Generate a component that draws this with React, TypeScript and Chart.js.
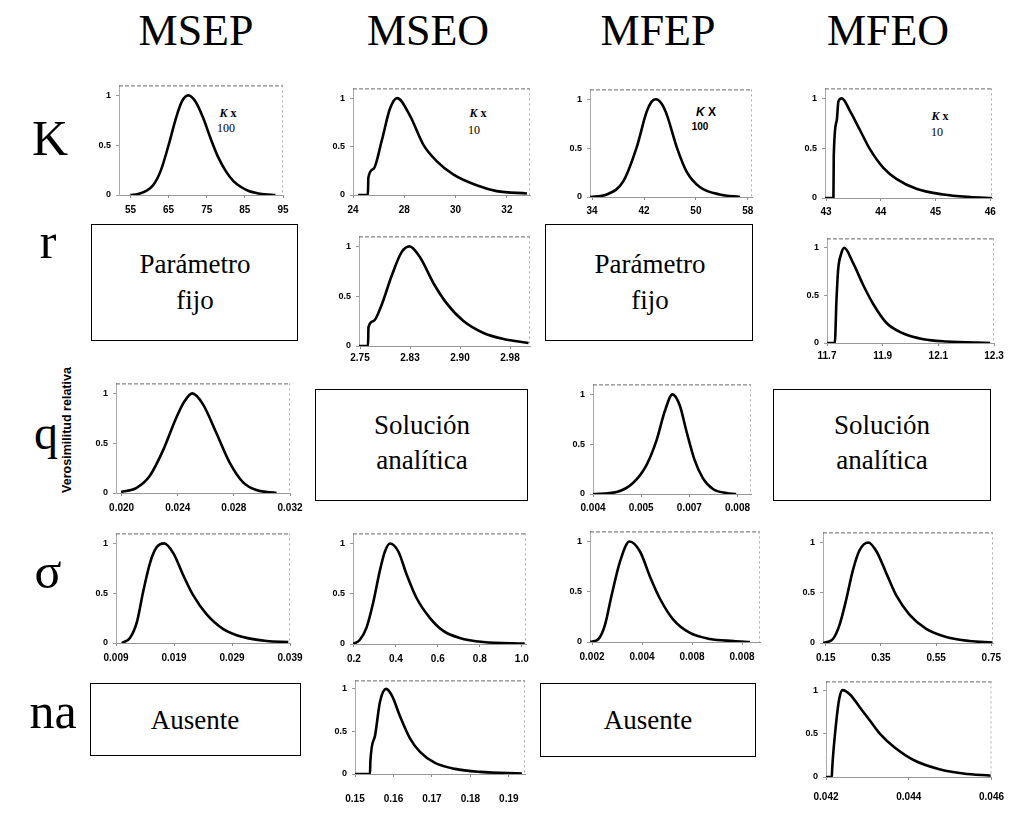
import React, { useEffect, useRef } from "react";
import { Chart, registerables } from "chart.js";

Chart.register(...registerables);

// ---------- text ----------
const columnTitles = ["MSEP", "MSEO", "MFEP", "MFEO"];
const rowTitles = ["K", "r", "q", "σ", "na"];
const yAxisTitle = "Verosimilitud relativa";
const yTickLabels = ["0", "0.5", "1"];

// ---------- tick labels (x axes) ----------
const K_MSEP_ticks = ["55", "65", "75", "85", "95"];
const K_MSEO_ticks = ["24", "28", "30", "32"];
const K_MFEP_ticks = ["34", "42", "50", "58"];
const K_MFEO_ticks = ["43", "44", "45", "46"];
const r_MSEO_ticks = ["2.75", "2.83", "2.90", "2.98"];
const r_MFEO_ticks = ["11.7", "11.9", "12.1", "12.3"];
const q_MSEP_ticks = ["0.020", "0.024", "0.028", "0.032"];
const q_MFEP_ticks = ["0.004", "0.005", "0.007", "0.008"];
const s_MSEP_ticks = ["0.009", "0.019", "0.029", "0.039"];
const s_MSEO_ticks = ["0.2", "0.4", "0.6", "0.8", "1.0"];
const s_MFEP_ticks = ["0.002", "0.004", "0.008", "0.008"];
const s_MFEO_ticks = ["0.15", "0.35", "0.55", "0.75"];
const na_MSEO_ticks = ["0.15", "0.16", "0.17", "0.18", "0.19"];
const na_MFEO_ticks = ["0.042", "0.044", "0.046"];

// ---------- curves (x in tick-index units, y = relative likelihood) ----------
const K_MSEP_x = [0, 0.2, 0.4, 0.6, 0.8, 1.0, 1.2, 1.35, 1.52, 1.7, 1.9, 2.1, 2.3, 2.5, 2.7, 2.9, 3.1, 3.3, 3.5, 3.8];
const K_MSEP_y = [0, 0.01, 0.04, 0.1, 0.25, 0.5, 0.78, 0.94, 1.0, 0.94, 0.78, 0.57, 0.38, 0.24, 0.14, 0.08, 0.04, 0.02, 0.008, 0];

const K_MSEO_x = [0.1, 0.29, 0.3, 0.4, 0.56, 0.72, 0.86, 1.11, 1.37, 1.63, 1.96, 2.41, 2.8, 3.39];
const K_MSEO_y = [0, 0, 0.18, 0.27, 0.56, 0.89, 1.0, 0.82, 0.52, 0.35, 0.21, 0.1, 0.04, 0.016];

const K_MFEP_x = [-0.04, 0.28, 0.6, 0.86, 1.05, 1.14, 1.23, 1.33, 1.44, 1.63, 1.82, 2.08, 2.46, 2.85];
const K_MFEP_y = [0, 0.026, 0.16, 0.51, 0.87, 0.97, 1.0, 0.96, 0.84, 0.51, 0.26, 0.1, 0.026, 0];

const K_MFEO_x = [-0.02, 0.134, 0.14, 0.195, 0.225, 0.287, 0.44, 0.62, 0.8, 1.05, 1.29, 1.66, 2.14, 2.63, 3.03];
const K_MFEO_y = [0, 0, 0.42, 0.78, 0.97, 1.0, 0.87, 0.68, 0.49, 0.3, 0.19, 0.09, 0.035, 0.01, 0];

const r_MSEO_x = [-0.02, 0.16, 0.17, 0.27, 0.43, 0.63, 0.83, 0.99, 1.2, 1.47, 1.73, 2.07, 2.47, 2.87, 3.37];
const r_MSEO_y = [0, 0, 0.19, 0.25, 0.41, 0.7, 0.94, 1.0, 0.89, 0.63, 0.43, 0.25, 0.13, 0.07, 0.03];

const r_MFEO_x = [0, 0.14, 0.17, 0.2, 0.25, 0.31, 0.47, 0.65, 0.83, 1.07, 1.37, 1.73, 2.15, 2.93];
const r_MFEO_y = [0, 0, 0.45, 0.77, 0.93, 1.0, 0.84, 0.61, 0.41, 0.21, 0.1, 0.04, 0.016, 0];

const q_MSEP_x = [-0.01, 0.26, 0.5, 0.74, 0.97, 1.12, 1.26, 1.45, 1.69, 1.93, 2.16, 2.4, 2.76];
const q_MSEP_y = [0.01, 0.05, 0.17, 0.43, 0.75, 0.92, 1.0, 0.89, 0.6, 0.3, 0.11, 0.03, 0];

const q_MFEP_x = [0, 0.49, 0.83, 1.11, 1.32, 1.49, 1.65, 1.8, 1.94, 2.11, 2.28, 2.49, 2.77, 2.97];
const q_MFEP_y = [0, 0.02, 0.11, 0.29, 0.54, 0.83, 1.0, 0.89, 0.63, 0.34, 0.16, 0.05, 0.01, 0];

const s_MSEP_x = [0.1, 0.24, 0.36, 0.47, 0.59, 0.7, 0.83, 0.99, 1.16, 1.33, 1.56, 1.85, 2.19, 2.6, 2.97];
const s_MSEP_y = [0, 0.05, 0.21, 0.52, 0.81, 0.96, 1.0, 0.9, 0.68, 0.48, 0.29, 0.14, 0.06, 0.02, 0.01];

const s_MSEO_x = [-0.02, 0.14, 0.3, 0.46, 0.62, 0.74, 0.86, 1.06, 1.25, 1.49, 1.81, 2.13, 2.52, 3.08, 4.07];
const s_MSEO_y = [0, 0.04, 0.16, 0.41, 0.73, 0.92, 1.0, 0.92, 0.7, 0.46, 0.26, 0.13, 0.06, 0.02, 0.005];

const s_MFEP_x = [-0.04, 0.13, 0.26, 0.39, 0.56, 0.75, 0.96, 1.16, 1.36, 1.63, 1.96, 2.36, 2.83, 3.16];
const s_MFEP_y = [0, 0.03, 0.17, 0.46, 0.8, 1.0, 0.9, 0.65, 0.43, 0.22, 0.09, 0.03, 0.01, 0];

const s_MFEO_x = [-0.05, 0.13, 0.25, 0.37, 0.49, 0.61, 0.77, 0.92, 1.1, 1.28, 1.52, 1.82, 2.18, 2.6, 3.02];
const s_MFEO_y = [0, 0.04, 0.18, 0.43, 0.72, 0.92, 1.0, 0.91, 0.69, 0.47, 0.28, 0.14, 0.06, 0.02, 0.005];

const na_MSEO_x = [0, 0.39, 0.4, 0.52, 0.65, 0.81, 0.96, 1.17, 1.43, 1.69, 2.08, 2.6, 3.25, 4.34];
const na_MSEO_y = [0, 0, 0.15, 0.45, 0.85, 1.0, 0.92, 0.68, 0.42, 0.26, 0.13, 0.06, 0.025, 0.005];

const na_MFEO_x = [0, 0.07, 0.075, 0.12, 0.16, 0.2, 0.29, 0.41, 0.53, 0.65, 0.83, 1.07, 1.37, 1.66, 1.99];
const na_MFEO_y = [0, 0, 0.1, 0.6, 0.9, 1.0, 0.95, 0.8, 0.65, 0.5, 0.34, 0.19, 0.09, 0.04, 0.015];

// ---------- panel layout (pixel placement of each small chart) ----------
type Panel = {
  key: string;
  ticks: string[];
  x: number[];
  y: number[];
  zero: number;
  unit: number;
  min: number;
  max: number;
  y1: number;
  y0: number;
  labelOff: number;
};

const panels: Panel[] = [
  { key: "K_MSEP", ticks: K_MSEP_ticks, x: K_MSEP_x, y: K_MSEP_y, zero: 130, unit: 38.25, min: -0.3, max: 4, y1: 90, y0: 195, labelOff: 16 },
  { key: "K_MSEO", ticks: K_MSEO_ticks, x: K_MSEO_x, y: K_MSEO_y, zero: 353, unit: 51.3, min: 0, max: 3.45, y1: 92, y0: 195, labelOff: 16 },
  { key: "K_MFEP", ticks: K_MFEP_ticks, x: K_MFEP_x, y: K_MFEP_y, zero: 592, unit: 52, min: -0.04, max: 3.08, y1: 93, y0: 197, labelOff: 15 },
  { key: "K_MFEO", ticks: K_MFEO_ticks, x: K_MFEO_x, y: K_MFEO_y, zero: 826, unit: 54.7, min: -0.02, max: 3.03, y1: 93, y0: 198, labelOff: 15 },
  { key: "r_MSEO", ticks: r_MSEO_ticks, x: r_MSEO_x, y: r_MSEO_y, zero: 360, unit: 50, min: -0.02, max: 3.4, y1: 240, y0: 345, labelOff: 13 },
  { key: "r_MFEO", ticks: r_MFEO_ticks, x: r_MFEO_x, y: r_MFEO_y, zero: 827, unit: 55.7, min: 0, max: 3.0, y1: 242, y0: 343, labelOff: 14 },
  { key: "q_MSEP", ticks: q_MSEP_ticks, x: q_MSEP_x, y: q_MSEP_y, zero: 122, unit: 56.1, min: -0.1, max: 3.0, y1: 387, y0: 492, labelOff: 16 },
  { key: "q_MFEP", ticks: q_MFEP_ticks, x: q_MFEP_x, y: q_MFEP_y, zero: 593, unit: 48.3, min: 0, max: 3.28, y1: 388, y0: 493, labelOff: 15 },
  { key: "s_MSEP", ticks: s_MSEP_ticks, x: s_MSEP_x, y: s_MSEP_y, zero: 116, unit: 58, min: 0, max: 3.0, y1: 537, y0: 642, labelOff: 16 },
  { key: "s_MSEO", ticks: s_MSEO_ticks, x: s_MSEO_x, y: s_MSEO_y, zero: 354, unit: 42, min: -0.02, max: 4.1, y1: 538, y0: 644, labelOff: 16 },
  { key: "s_MFEP", ticks: s_MFEP_ticks, x: s_MFEP_x, y: s_MFEP_y, zero: 592, unit: 50, min: -0.04, max: 3.36, y1: 536, y0: 642, labelOff: 16 },
  { key: "s_MFEO", ticks: s_MFEO_ticks, x: s_MFEO_x, y: s_MFEO_y, zero: 826, unit: 55.3, min: -0.05, max: 3.03, y1: 537, y0: 643, labelOff: 16 },
  { key: "na_MSEO", ticks: na_MSEO_ticks, x: na_MSEO_x, y: na_MSEO_y, zero: 355, unit: 38.5, min: 0, max: 4.42, y1: 683, y0: 774, labelOff: 26 },
  { key: "na_MFEO", ticks: na_MFEO_ticks, x: na_MFEO_x, y: na_MFEO_y, zero: 826, unit: 83.5, min: 0, max: 2.0, y1: 684, y0: 777, labelOff: 21 },
];

const SANS = "'Liberation Sans', Arial, sans-serif";
const SERIF = "'Liberation Serif', 'Times New Roman', serif";

const framePlugin = {
  id: "frame",
  beforeDatasetsDraw(chart: any) {
    const { ctx, chartArea: a } = chart;
    ctx.save();
    ctx.lineWidth = 1;
    ctx.setLineDash([4, 2]);
    ctx.strokeStyle = "#666";
    ctx.beginPath();
    ctx.moveTo(a.left, a.top + 0.5);
    ctx.lineTo(a.right, a.top + 0.5);
    ctx.stroke();
    ctx.setLineDash([2, 3]);
    ctx.strokeStyle = "#aaa";
    ctx.beginPath();
    ctx.moveTo(a.right - 0.5, a.top);
    ctx.lineTo(a.right - 0.5, a.bottom);
    ctx.stroke();
    ctx.restore();
  },
};

function PanelChart({ p }: { p: Panel }) {
  const ref = useRef<HTMLCanvasElement | null>(null);
  const padL = 40;
  const padR = 22;
  const padT = 4;
  const axisH = p.labelOff + 10;
  const L = p.zero + p.min * p.unit;
  const R = p.zero + p.max * p.unit;
  const top = p.y0 - (p.y0 - p.y1) * 1.1;
  const w = Math.round(R - L + padL + padR);
  const h = Math.round(p.y0 - top + padT + axisH);

  useEffect(() => {
    if (!ref.current) return;
    const chart = new Chart(ref.current, {
      type: "line",
      data: {
        datasets: [
          {
            data: p.x.map((xv, i) => ({ x: xv, y: p.y[i] })),
            borderColor: "#000",
            borderWidth: 2.6,
            pointRadius: 0,
            fill: false,
            cubicInterpolationMode: "monotone",
          },
        ],
      },
      options: {
        animation: false,
        responsive: false,
        devicePixelRatio: 1,
        layout: { padding: { left: 0, right: padR, top: padT, bottom: 0 } },
        plugins: { legend: { display: false }, tooltip: { enabled: false } },
        scales: {
          x: {
            type: "linear",
            min: p.min,
            max: p.max,
            afterBuildTicks: (s: any) => {
              s.ticks = p.ticks.map((_, i) => ({ value: i }));
            },
            afterFit: (s: any) => {
              s.height = axisH;
            },
            ticks: {
              autoSkip: false,
              maxRotation: 0,
              padding: Math.max(0, p.labelOff - 10),
              color: "#000",
              font: { family: SANS, size: 10, weight: "bold" },
              callback: (v: any) => p.ticks[Math.round(v)] ?? "",
            },
            grid: { display: true, drawOnChartArea: false, drawTicks: true, tickLength: 3, color: "#888" },
            border: { display: true, color: "#999", dash: [5, 2] },
          },
          y: {
            type: "linear",
            min: 0,
            max: 1.1,
            afterBuildTicks: (s: any) => {
              s.ticks = [{ value: 0 }, { value: 0.5 }, { value: 1 }];
            },
            afterFit: (s: any) => {
              s.width = padL;
            },
            ticks: {
              padding: 5,
              color: "#000",
              font: { family: SANS, size: 9, weight: "bold" },
              callback: (v: any) => (v === 0 ? yTickLabels[0] : v === 0.5 ? yTickLabels[1] : yTickLabels[2]),
            },
            grid: { display: true, drawOnChartArea: false, drawTicks: true, tickLength: 3, color: "#999" },
            border: { display: true, color: "#aaa", dash: [2, 3] },
          },
        },
      },
      plugins: [framePlugin],
    } as any);
    return () => chart.destroy();
  }, []);

  return (
    <canvas
      ref={ref}
      width={w}
      height={h}
      style={{ position: "absolute", left: Math.round(L - padL), top: Math.round(top - padT), width: w, height: h }}
    />
  );
}

function Txt({ x, y, size, children, style }: any) {
  return (
    <div
      style={{
        position: "absolute",
        left: x,
        top: y,
        transform: "translate(-50%, -50%)",
        fontFamily: SERIF,
        fontSize: size,
        lineHeight: 1,
        whiteSpace: "nowrap",
        color: "#000",
        ...style,
      }}
    >
      {children}
    </div>
  );
}

function Box({ x, y, w, h }: any) {
  return (
    <div
      style={{
        position: "absolute",
        left: x,
        top: y,
        width: w,
        height: h,
        border: "1.5px solid #000",
        boxSizing: "border-box",
      }}
    />
  );
}

const colX = [196, 428, 658, 888];
const rowLabelPos = [
  [50, 138],
  [48, 241],
  [46, 433],
  [48, 571],
  [53, 711],
];

export default function App() {
  return (
    <div style={{ position: "absolute", left: 0, top: 0, width: 1009, height: 815, background: "#fff", overflow: "hidden" }}>
      {columnTitles.map((t, i) => (
        <Txt key={t} x={colX[i]} y={31} size={44}>
          {t}
        </Txt>
      ))}
      {rowTitles.map((t, i) => (
        <Txt key={t} x={rowLabelPos[i][0]} y={rowLabelPos[i][1]} size={i === 2 ? 48 : 50}>
          {t}
        </Txt>
      ))}

      {/* boxes for cells without a chart */}
      <Box x={91} y={224} w={207} h={117} />
      <Txt x={195} y={264} size={27}>Parámetro</Txt>
      <Txt x={195} y={300} size={27}>fijo</Txt>

      <Box x={545} y={224} w={208} h={117} />
      <Txt x={650} y={264} size={27}>Parámetro</Txt>
      <Txt x={650} y={300} size={27}>fijo</Txt>

      <Box x={315} y={389} w={213} h={112} />
      <Txt x={422} y={425} size={27}>Solución</Txt>
      <Txt x={422} y={460} size={27}>analítica</Txt>

      <Box x={773} y={389} w={218} h={112} />
      <Txt x={882} y={425} size={27}>Solución</Txt>
      <Txt x={882} y={460} size={27}>analítica</Txt>

      <Box x={90} y={683} w={211} h={73} />
      <Txt x={195} y={720} size={27}>Ausente</Txt>

      <Box x={540} y={683} w={216} h={74} />
      <Txt x={648} y={720} size={27}>Ausente</Txt>

      {/* y-axis title */}
      <Txt x={67} y={430} size={12.5} style={{ fontFamily: SANS, fontWeight: "bold", transform: "translate(-50%, -50%) rotate(-90deg)" }}>
        {yAxisTitle}
      </Txt>

      {/* K scale annotations */}
      <Txt x={228} y={113} size={12} style={{ fontWeight: "bold" }}><i>K</i> x</Txt>
      <Txt x={226} y={128} size={12}>100</Txt>
      <Txt x={478} y={113} size={12} style={{ fontWeight: "bold" }}><i>K</i> x</Txt>
      <Txt x={474} y={130} size={12}>10</Txt>
      <Txt x={706} y={112} size={12} style={{ fontFamily: SANS, fontWeight: "bold" }}><i>K</i> X</Txt>
      <Txt x={700} y={127} size={10} style={{ fontFamily: SANS, fontWeight: "bold" }}>100</Txt>
      <Txt x={940} y={116} size={12} style={{ fontWeight: "bold" }}><i>K</i> x</Txt>
      <Txt x={937} y={132} size={12}>10</Txt>

      {panels.map((p) => (
        <PanelChart key={p.key} p={p} />
      ))}
    </div>
  );
}
